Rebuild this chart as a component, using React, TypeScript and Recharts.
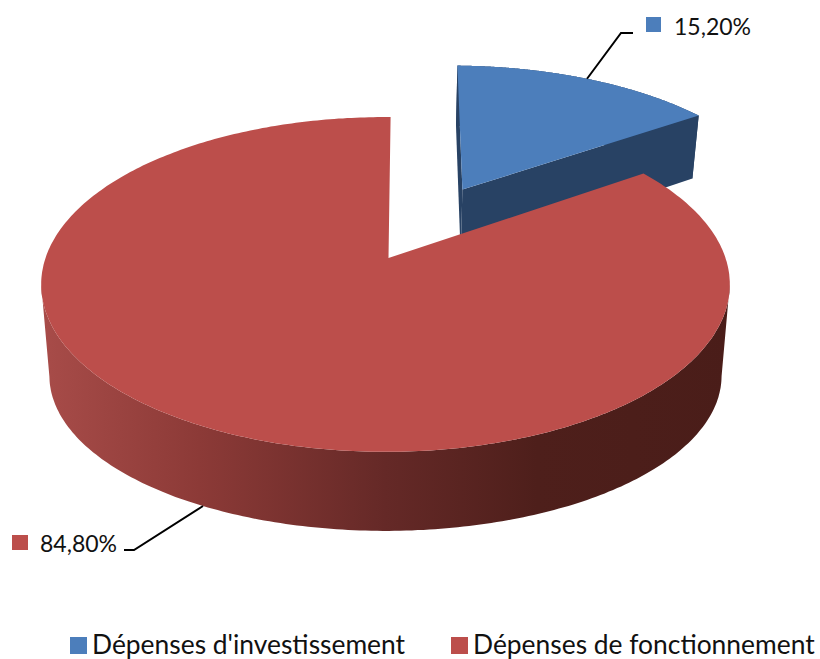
import { Legend, Pie, PieChart } from "recharts";

const categories = ["Dépenses d'investissement", "Dépenses de fonctionnement"];
const shares = [15.2, 84.8];
const topColors = ["#4C7EBB", "#BC4E4B"];
const exploded = [0.51, 0];
// the lower rim of the red slice sits deeper and flatter than the blue one in the picture
const rimTilt = [0.48, 0.412];
const rimDepth = [0.209, 0.283];
const apexNudge = [0, 3];

const data = categories.map((name, i) => ({ name, value: shares[i], fill: topColors[i] }));

const FONT = "Lato, 'Open Sans', sans-serif";
const SIDE_BLUE = "#284264";
const DEG = Math.PI / 180;

// camera for the tilted disc, in units of the outer radius
const TILT = 0.48;
const PERSP_V = 0.158;
const PERSP_Z = 0.024;

function project(cx: number, cy: number, r: number, u: number, v: number) {
  const w = 1 + PERSP_V * v;
  return [cx + (r * u) / w, cy - (r * TILT * v) / w];
}

function projectRim(cx: number, cy: number, r: number, u: number, v: number, index: number) {
  const w = 1 + PERSP_V * v + PERSP_Z;
  return [cx + (r * u) / w, cy - (r * (rimTilt[index] * v - rimDepth[index])) / w];
}

function toPath(points: number[][]) {
  return points.map((p, i) => `${i ? "L" : "M"}${p[0].toFixed(1)} ${p[1].toFixed(1)}`).join(" ") + " Z";
}

function offsetOf(index: number, midAngle: number) {
  const e = exploded[index] ?? 0;
  return [e * Math.cos(midAngle * DEG), e * Math.sin(midAngle * DEG)];
}

// part of an arc between its rightmost and leftmost points, i.e. the near edge
function nearEdge(arc: number[][]) {
  const xs = arc.map((p) => p[0]);
  return arc.slice(xs.indexOf(Math.max(...xs)), xs.indexOf(Math.min(...xs)) + 1);
}

function Slice3D(props: any) {
  const { cx, cy, outerRadius, startAngle, endAngle, fill, index } = props;
  const r = outerRadius;
  const mid = (startAngle + endAngle) / 2;
  const [ox, oy] = offsetOf(index, mid);
  const steps = 360;
  const angles: number[] = [];
  for (let i = 0; i <= steps; i++) angles.push(startAngle + ((endAngle - startAngle) * i) / steps);

  const apex = project(cx, cy, r, ox, oy);
  const apexTop = [apex[0] + apexNudge[index], apex[1]];
  const rimApex = projectRim(cx, cy, r, ox, oy, index);
  const apexBottom = [rimApex[0] + apexNudge[index], rimApex[1]];
  const topArc = angles.map((a) => project(cx, cy, r, ox + Math.cos(a * DEG), oy + Math.sin(a * DEG)));
  const bottomArc = angles.map((a) => projectRim(cx, cy, r, ox + Math.cos(a * DEG), oy + Math.sin(a * DEG), index));
  const side = [...topArc, ...[...bottomArc].reverse()];
  const isBlue = index === 0;

  return (
    <g>
      <defs>
        <linearGradient id="redSide" gradientUnits="userSpaceOnUse" x1="41" y1="0" x2="730" y2="0">
          <stop offset="0" stopColor="#A84C49" />
          <stop offset="0.23" stopColor="#8C3A37" />
          <stop offset="0.5" stopColor="#652927" />
          <stop offset="0.72" stopColor="#4E1F1B" />
          <stop offset="1" stopColor="#4A1D19" />
        </linearGradient>
      </defs>
      {isBlue ? (
        <>
          <path d={toPath(side)} fill={SIDE_BLUE} />
          <path d={toPath([apexTop, topArc[0], bottomArc[0], apexBottom])} fill={SIDE_BLUE} />
          <path d={toPath([apexTop, topArc[steps], bottomArc[steps], apexBottom])} fill={SIDE_BLUE} />
        </>
      ) : (
        <path d={toPath([...nearEdge(topArc), ...nearEdge(bottomArc).reverse()])} fill="url(#redSide)" />
      )}
      <path d={toPath([apexTop, ...topArc])} fill={fill} />
    </g>
  );
}

function SliceLabel(props: any) {
  const { cx, cy, outerRadius, midAngle, index, value, fill } = props;
  const [ox, oy] = offsetOf(index, midAngle);
  const isBlue = index === 0;
  const u = ox + Math.cos(midAngle * DEG);
  const v = oy + Math.sin(midAngle * DEG);
  const [x, y] = isBlue
    ? project(cx, cy, outerRadius, u, v)
    : projectRim(cx, cy, outerRadius, u, v, index);
  const text = `${value.toFixed(2).replace(".", ",")}%`;
  return isBlue ? (
    <g>
      <polyline points={`${x},${y} ${621},${33} ${633},${33}`} fill="none" stroke="#000" strokeWidth={2} />
      <rect x={646} y={17} width={15} height={15} fill={fill} />
      <text x={674} y={35} fontFamily={FONT} fontSize={23} fill="#111">
        {text}
      </text>
    </g>
  ) : (
    <g>
      <polyline points={`${x},${y} ${134},${550} ${124},${550}`} fill="none" stroke="#000" strokeWidth={2} />
      <rect x={12} y={535} width={16} height={15} fill={fill} />
      <text x={40} y={552} fontFamily={FONT} fontSize={23} fill="#111">
        {text}
      </text>
    </g>
  );
}

function BottomLegend({ payload }: any) {
  const lefts = [70, 451];
  return (
    <div style={{ position: "relative", height: 30, fontFamily: FONT, fontSize: 26.4, color: "#111" }}>
      {(payload ?? []).map((item: any, i: number) => (
        <span key={item.value} style={{ position: "absolute", left: lefts[i], top: 0, whiteSpace: "nowrap", lineHeight: "30px" }}>
          <span
            style={{
              display: "inline-block",
              width: 17,
              height: 17,
              marginRight: 5,
              backgroundColor: item.color,
              verticalAlign: 0,
            }}
          />
          {item.value}
        </span>
      ))}
    </div>
  );
}

export default function App() {
  return (
    <div style={{ position: "absolute", left: 0, top: 0, width: 820, height: 659, overflow: "hidden", background: "#fff" }}>
      <PieChart width={820} height={659} margin={{ top: 0, right: 0, bottom: 0, left: 0 }}>
        <Pie
          data={data}
          dataKey="value"
          nameKey="name"
          cx={385.5}
          cy={258}
          outerRadius={340}
          startAngle={89}
          endAngle={-271}
          stroke="none"
          shape={Slice3D}
          label={SliceLabel}
          labelLine={false}
          isAnimationActive={false}
        />
        <Legend
          content={BottomLegend}
          wrapperStyle={{ position: "absolute", left: 0, top: 629, width: 820, height: 30 }}
        />
      </PieChart>
    </div>
  );
}
